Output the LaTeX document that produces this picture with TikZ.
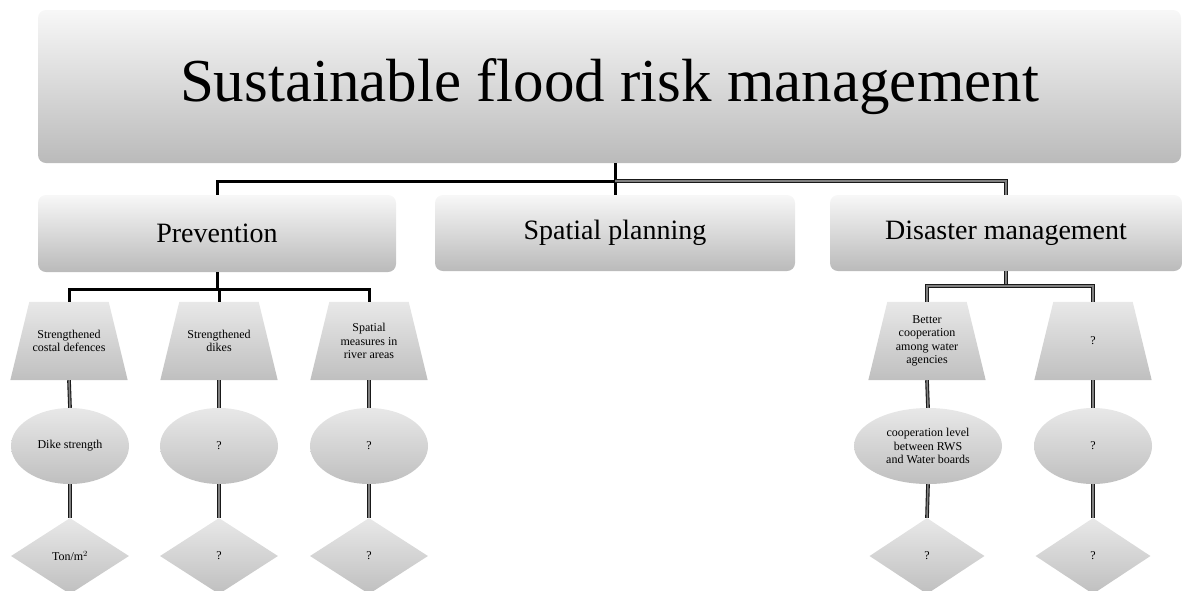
\documentclass[tikz,border=0pt]{standalone}
\usepackage{fontspec}
\setmainfont{Liberation Serif}
\usetikzlibrary{shapes.geometric,calc,backgrounds}
\begin{document}
\begin{tikzpicture}[x=1pt,y=-1pt,
  shadebox/.style={top color=black!3, bottom color=black!27, draw=none},
  shapefill/.style={top color=black!9, bottom color=black!25, draw=none},
  card/.style={shadebox, rounded corners=8pt, inner sep=0pt},
  small/.style={font=\fontsize{12}{13.5}\selectfont, align=center},
  trap/.style={small, minimum width=117pt, minimum height=78pt, inner sep=0pt},
  oval/.style={shapefill, small, ellipse, minimum width=118pt, minimum height=76pt, inner sep=0pt},
  gem/.style={shapefill, small, diamond, minimum width=118pt, minimum height=76pt, inner sep=0pt},
  trunk/.style={line width=3pt, black},
  branch/.style={draw=black!90, line width=1.1pt, double=black!50, double distance=1.5pt},
]
\useasboundingbox (0,0) rectangle (1182,590);

% main heading and the three fields
\node[card, minimum width=1143pt, minimum height=153pt, font=\fontsize{61}{66}\selectfont]
  (top) at (609.5,86.5) {Sustainable flood risk management};
\node[card, minimum width=358pt, minimum height=77pt, font=\fontsize{28}{30}\selectfont]
  (prev) at (217,233.5) {Prevention};
\node[card, minimum width=360pt, minimum height=76pt, font=\fontsize{28}{30}\selectfont]
  (sp) at (615,233) {Spatial planning};
\node[card, minimum width=352pt, minimum height=76pt, font=\fontsize{28}{30}\selectfont]
  (dis) at (1006,233) {Disaster management};

% measures (trapezoid outlines are shaded behind them below)
\node[trap] (t1) at (69,341) {Strengthened\\costal defences};
\node[trap] (t2) at (219,341) {Strengthened\\dikes};
\node[trap] (t3) at (369,341) {Spatial\\measures in\\river areas};
\node[trap] (t4) at (927,341) {Better\\cooperation\\among water\\agencies};
\node[trap] (t5) at (1093,341) {?};

\begin{scope}[on background layer]
  \foreach \n in {t1,t2,t3,t4,t5}{
    \shade[shapefill] ($(\n.north west)+(19,0)$) -- ($(\n.north east)+(-19,0)$)
      -- (\n.south east) -- (\n.south west) -- cycle;
  }
\end{scope}

% indicators
\node[oval] (e1) at (70,446) {Dike strength};
\node[oval] (e2) at (219,446) {?};
\node[oval] (e3) at (369,446) {?};
\node[oval, minimum width=148pt] (e4) at (928,446) {cooperation level\\between RWS\\and Water boards};
\node[oval] (e5) at (1093,446) {?};

% units
\node[gem] (d1) at (70,556) {Ton/m$^{2}$};
\node[gem] (d2) at (219,556) {?};
\node[gem] (d3) at (369,556) {?};
\node[gem, minimum width=115pt] (d4) at (927,556) {?};
\node[gem, minimum width=115pt] (d5) at (1093,556) {?};

% tree from the heading to the fields
\coordinate (tj) at ($(top.south -| sp.north)+(0,18)$);
\draw[trunk] (top.south -| sp.north) -- (sp.north);
\draw[trunk] (tj) -| (prev.north);
\draw[branch] (tj) -| (dis.north);

% prevention branch
\coordinate (pj) at ($(prev.south)+(0,17)$);
\draw[trunk] (prev.south) -- (pj);
\draw[trunk] (t1.north) |- (pj) -| (t3.north);
\draw[trunk] (pj) -| (t2.north);

% disaster management branch
\coordinate (dj) at ($(dis.south)+(0,15)$);
\draw[branch] (dis.south) -- (dj);
\draw[branch] (t4.north) |- (dj) -| (t5.north);

% measure -> indicator -> unit
\foreach \i in {1,...,5}{
  \draw[branch] (t\i.south) -- (e\i.north);
  \draw[branch] (e\i.south) -- (d\i.north);
}
\end{tikzpicture}
\end{document}
